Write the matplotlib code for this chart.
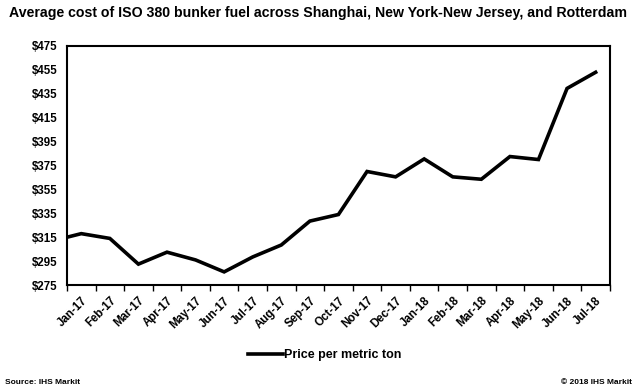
import matplotlib.pyplot as plt
import numpy as np

plt.rcParams['font.family'] = ['Liberation Sans', 'DejaVu Sans']

# ==== Data ====
months = ['Dec-16', 'Jan-17', 'Feb-17', 'Mar-17', 'Apr-17', 'May-17', 'Jun-17', 'Jul-17',
          'Aug-17', 'Sep-17', 'Oct-17', 'Nov-17', 'Dec-17', 'Jan-18', 'Feb-18',
          'Mar-18', 'Apr-18', 'May-18', 'Jun-18', 'Jul-18']
price = [312, 318, 314, 292.5, 302.5, 296, 286, 298.5, 308.5, 328.5, 334, 370,
         365.5, 380.5, 365.5, 363.5, 382.5, 380, 439.5, 453]
yticks = [275, 295, 315, 335, 355, 375, 395, 415, 435, 455, 475]

fig = plt.figure(figsize=(6.36, 3.91), dpi=100, facecolor='white')
ax = fig.add_axes([0.1053, 0.271, 0.8537, 0.6114])

x = np.arange(len(months)) - 1
ax.plot(x, price, color='black', linewidth=2.6, solid_joinstyle='miter',
        label='Price per metric ton')

ax.set_xlim(-0.5, len(months) - 1.5)
ax.set_ylim(275, 475)
ax.set_yticks(yticks)
ax.set_yticklabels([f'${v}' for v in yticks], fontsize=8.3, fontweight='bold')
ax.tick_params(axis='y', length=0, pad=7)

# category ticks sit between months, labels at centres
ax.set_xticks(np.arange(-0.5, len(months) - 1, 1.0))
ax.set_xticklabels([])
ax.set_xticks(x[1:], minor=True)
ax.set_xticklabels(months[1:], minor=True, rotation=45, ha='right',
                   rotation_mode='anchor', fontsize=8.3, fontweight='bold')
ax.tick_params(axis='x', which='major', length=4, width=1, direction='out')
ax.tick_params(axis='x', which='minor', length=0, pad=7)

for s in ax.spines.values():
    s.set_linewidth(1.5)

fig.text(0.5, 0.968, 'Average cost of ISO 380 bunker fuel across Shanghai, '
         'New York-New Jersey, and Rotterdam', ha='center', va='center',
         fontsize=10.2, fontweight='bold')

fig.legend(loc='center', bbox_to_anchor=(0.51, 0.092), frameon=False,
           handlelength=2.8, handletextpad=0.1,
           prop={'weight': 'bold', 'size': 9})

fig.text(0.008, 0.022, 'Source: IHS Markit', ha='left', va='center',
         fontsize=6, fontweight='bold')
fig.text(0.994, 0.022, '\u00a9 2018 IHS Markit', ha='right', va='center',
         fontsize=6, fontweight='bold')

fig.savefig('out.png', dpi=100, facecolor='white')
